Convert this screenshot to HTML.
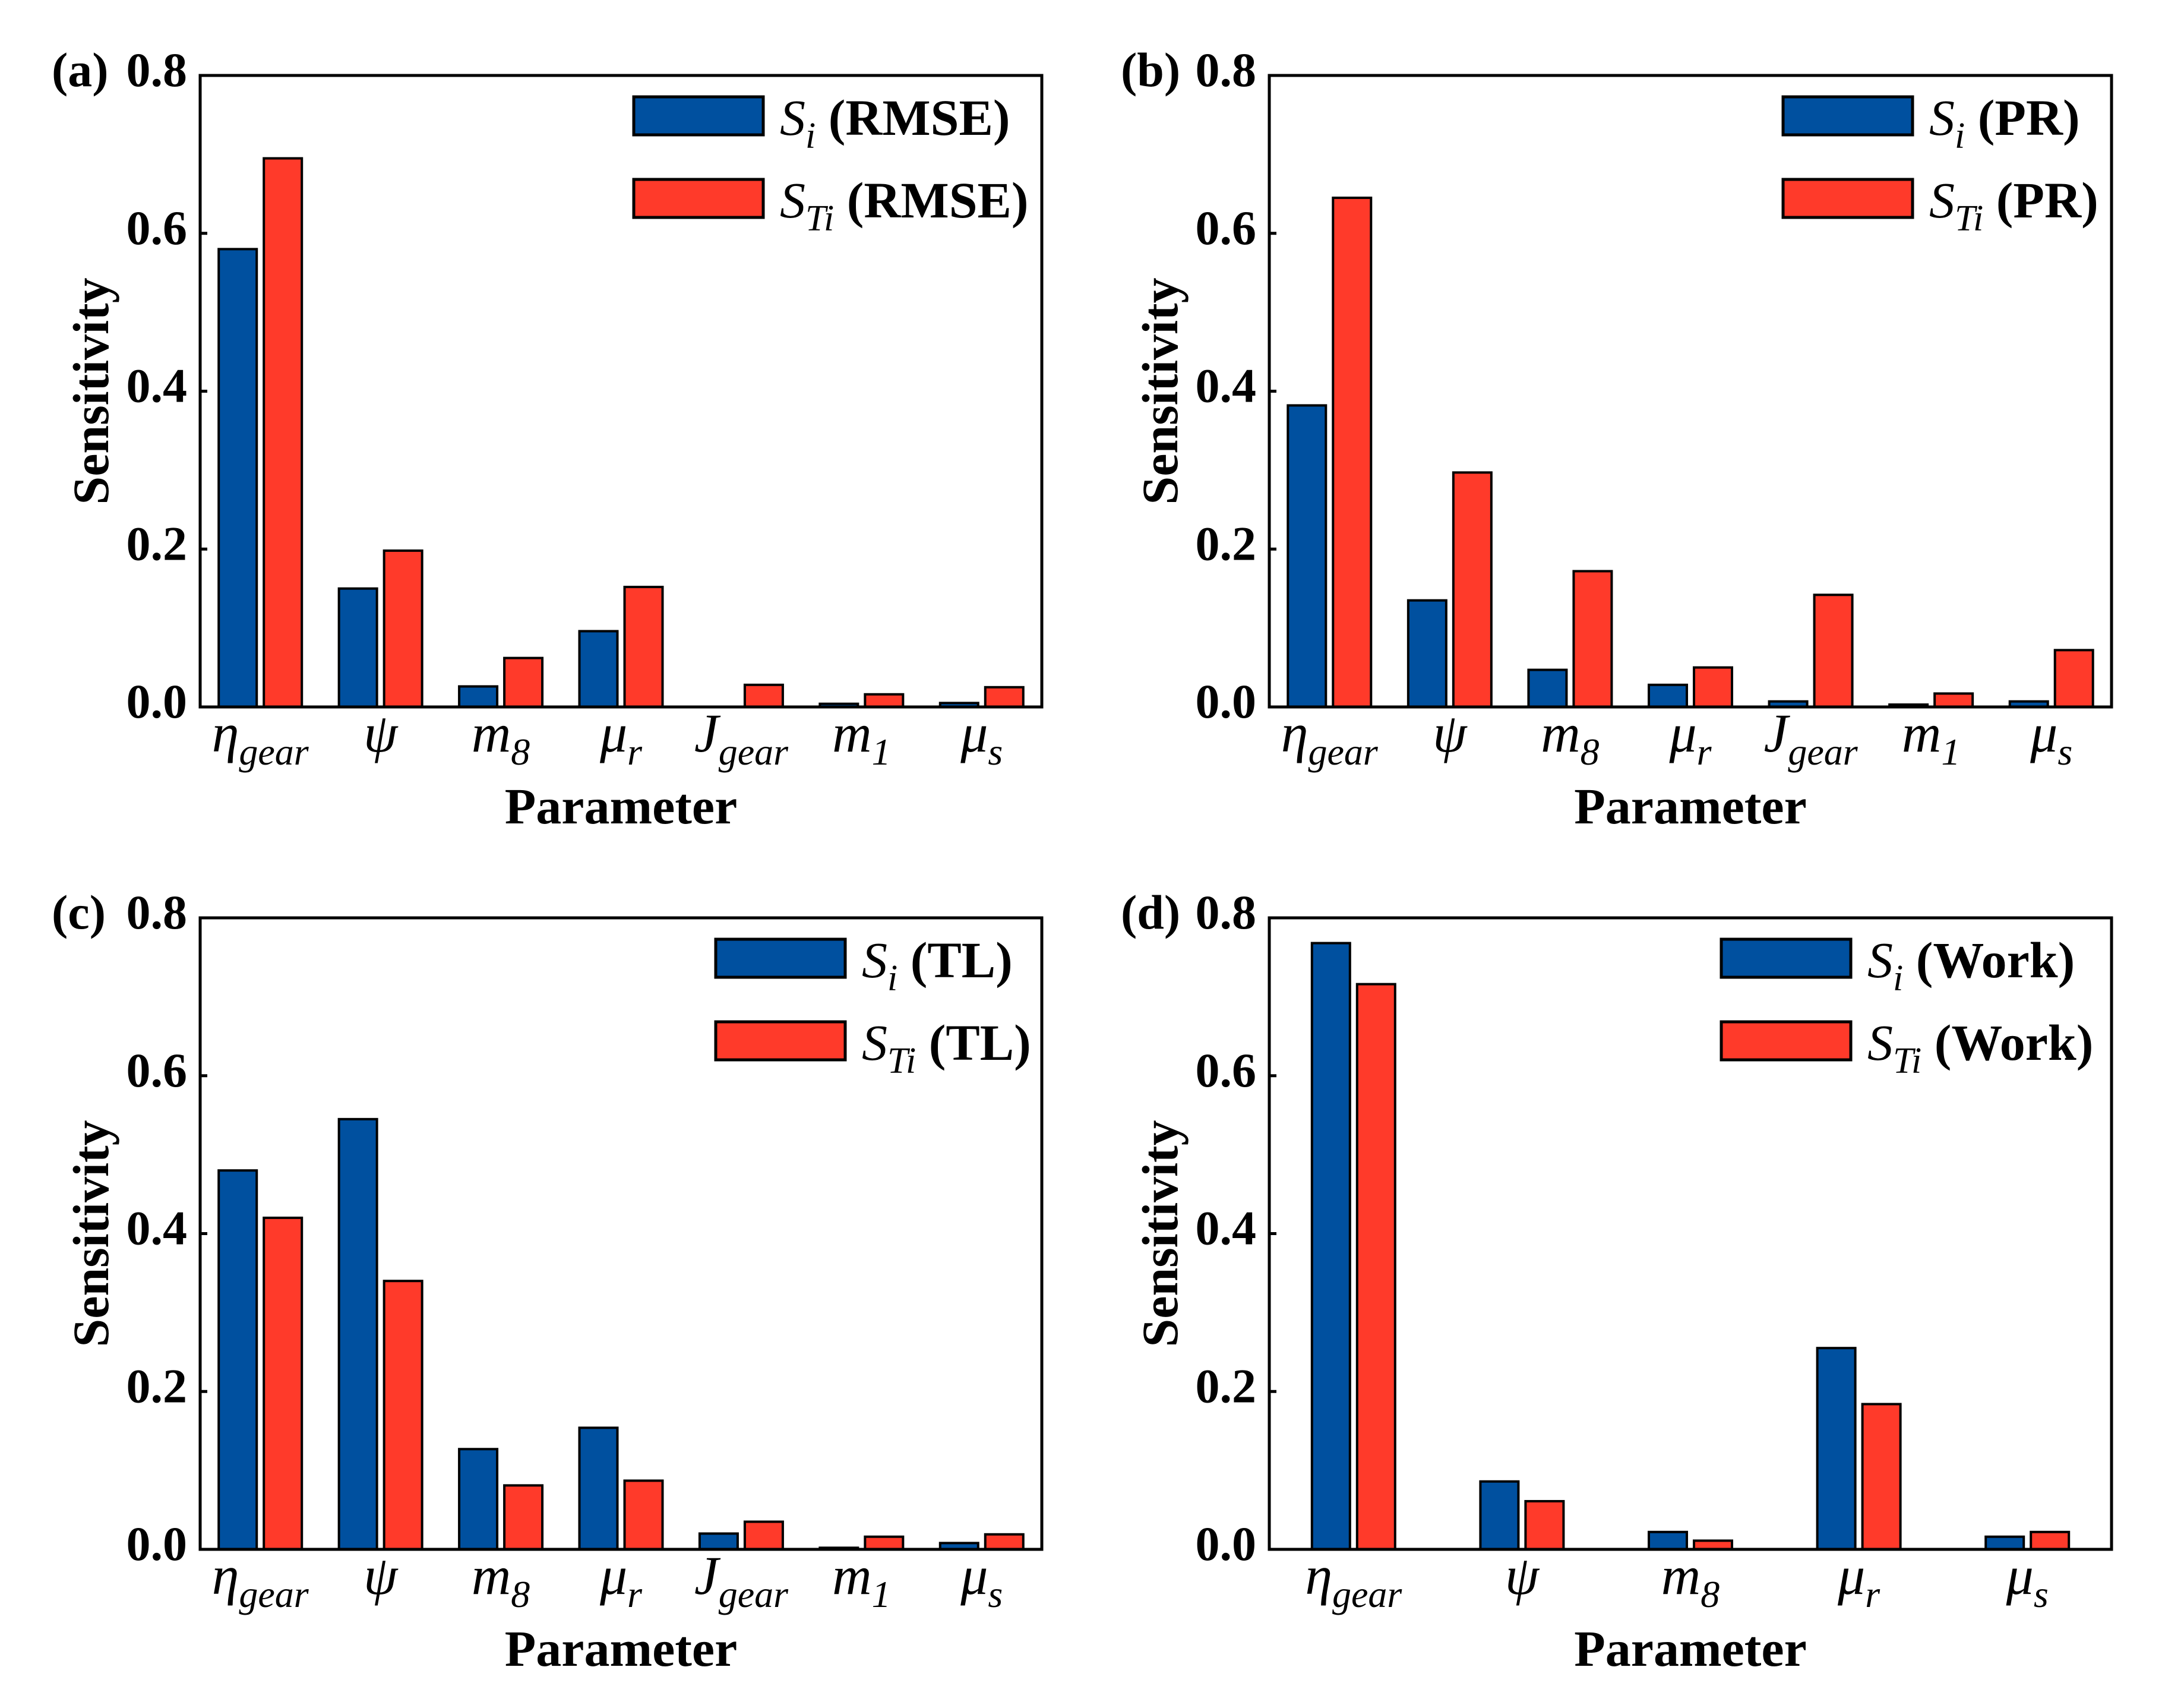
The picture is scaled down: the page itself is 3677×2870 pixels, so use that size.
<!DOCTYPE html>
<html><head><meta charset="utf-8"><style>
html,body{margin:0;padding:0;background:#fff}
svg{display:block}
text{font-family:"Liberation Serif",serif}
</style></head><body>
<svg id="fig" width="3677" height="2870" viewBox="0 0 3677 2870" xmlns="http://www.w3.org/2000/svg"></svg>
<script>
// ---- data ----
const catsA = [["η","gear"],["ψ",""],["m","8"],["μ","r"],["J","gear"],["m","1"],["μ","s"]];
const catsD = [["η","gear"],["ψ",""],["m","8"],["μ","r"],["μ","s"]];
const siA  = [0.580, 0.150, 0.026, 0.096, 0.000, 0.004, 0.005];
const stiA = [0.695, 0.198, 0.062, 0.152, 0.028, 0.016, 0.025];
const siB  = [0.382, 0.135, 0.047, 0.028, 0.007, 0.003, 0.007];
const stiB = [0.645, 0.297, 0.172, 0.050, 0.142, 0.017, 0.072];
const siC  = [0.480, 0.545, 0.127, 0.154, 0.020, 0.002, 0.008];
const stiC = [0.420, 0.340, 0.081, 0.087, 0.035, 0.016, 0.019];
const siD  = [0.768, 0.086, 0.022, 0.255, 0.016];
const stiD = [0.716, 0.061, 0.011, 0.184, 0.022];
const yTicks = [0.0, 0.2, 0.4, 0.6, 0.8];
const yTickLabels = ["0.0","0.2","0.4","0.6","0.8"];
const legendTags = ["RMSE","PR","TL","Work"];
const panelTags = ["(a)","(b)","(c)","(d)"];

const NS = "http://www.w3.org/2000/svg";
const svg = document.getElementById("fig");
function mk(tag, attrs, parent){
  const e = document.createElementNS(NS, tag);
  for (const k in attrs) e.setAttribute(k, attrs[k]);
  (parent||svg).appendChild(e);
  return e;
}
const BLUE = "#00509f", RED = "#ff3a2a";

function panel(idx, L, R, T, B, cats, si, sti, legX){
  const g = mk("g", {});
  
  
  const yScale = v => B - (v / 0.8) * (B - T);
  const band = (R - L) / cats.length;
  const xCenter = i => L + band * (i + 0.5);
  const bw = 64, gap = 12;
  // bars
  for (let i = 0; i < cats.length; i++){
    const c = xCenter(i);
    const vb = si[i], vr = sti[i];
    if (vb > 0){
      const r = mk("rect", {x: c - gap/2 - bw, y: yScale(vb), width: bw, height: B - yScale(vb), fill: BLUE, stroke: "#000", "stroke-width": 4}, g);
      
      
    }
    if (vr > 0){
      const r2 = mk("rect", {x: c + gap/2, y: yScale(vr), width: bw, height: B - yScale(vr), fill: RED, stroke: "#000", "stroke-width": 4}, g);
      
      
    }
    // category label
    const t = mk("text", {x: c, y: 1265 + (T - 127), "text-anchor": "middle", "font-size": 92, "font-style": "italic"}, g);
    
    
    const m = mk("tspan", {}, t); m.textContent = cats[i][0];
    if (cats[i][1]){
      const s = mk("tspan", {"font-size": 64, dy: 22}, t); s.textContent = cats[i][1];
    }
  }
  // axes frame
  const f = mk("rect", {x: L, y: T, width: R - L, height: B - T, fill: "none", stroke: "#000", "stroke-width": 5}, g);
  
  
  // y ticks
  for (let k = 0; k < yTicks.length; k++){
    const y = yScale(yTicks[k]);
    mk("line", {x1: L, x2: L + 12, y1: y, y2: y, stroke: "#000", "stroke-width": 5}, g);
    const tl = mk("text", {x: L - 22, y: y + 18, "text-anchor": "end", "font-size": 82, "font-weight": "bold"}, g);
    
    
    tl.textContent = yTickLabels[k];
  }
  // panel tag
  const pt = mk("text", {x: L - 250, y: T + 18, "font-size": 82, "font-weight": "bold"}, g);
  
  
  pt.textContent = panelTags[idx];
  // y title
  const yt = mk("text", {x: 0, y: 0, transform: `translate(${L - 155},${(T + B) / 2}) rotate(-90)`, "text-anchor": "middle", "font-size": 86, "font-weight": "bold"}, g);
  
  
  yt.textContent = "Sensitivity";
  // x title
  const xt = mk("text", {x: (L + R) / 2, y: B + 196, "text-anchor": "middle", "font-size": 86, "font-weight": "bold"}, g);
  
  
  xt.textContent = "Parameter";
  // legend
  const items = [[BLUE, "i"], [RED, "Ti"]];
  for (let j = 0; j < 2; j++){
    const ty = T + 36 + j * 139;
    const sw = mk("rect", {x: legX, y: ty, width: 218, height: 64, fill: items[j][0], stroke: "#000", "stroke-width": 5}, g);
    
    
    const lt = mk("text", {x: legX + 246, y: ty + 64, "font-size": 86}, g);
    
    
    const a = mk("tspan", {"font-style": "italic"}, lt); a.textContent = "S";
    const b = mk("tspan", {"font-style": "italic", "font-size": 62, dy: 22}, lt); b.textContent = items[j][1];
    const c = mk("tspan", {"font-weight": "bold", dy: -22}, lt); c.textContent = " (" + legendTags[idx] + ")";
  }
}
panel(0, 337, 1754, 127, 1190, catsA, siA, stiA, 1067);
panel(1, 2137, 3555, 127, 1190, catsA, siB, stiB, 3002);
panel(2, 337, 1754, 1545, 2608, catsA, siC, stiC, 1205);
panel(3, 2137, 3555, 1545, 2608, catsD, siD, stiD, 2898);
</script>
</body></html>
